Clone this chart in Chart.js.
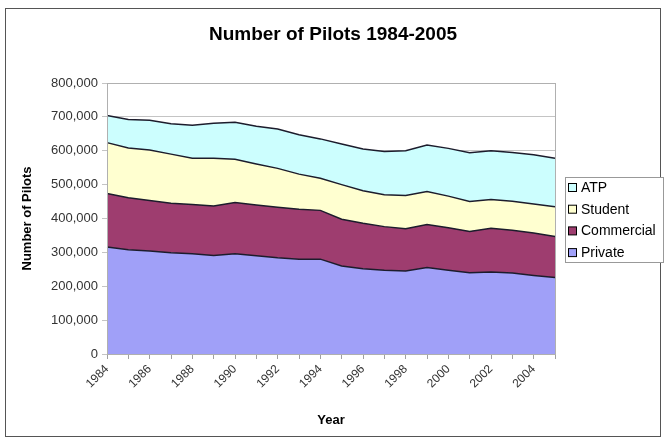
<!DOCTYPE html>
<html>
<head>
<meta charset="utf-8">
<script src="https://cdn.jsdelivr.net/npm/chart.js@4.4.1/dist/chart.umd.min.js"></script>
<style>
  html, body { margin: 0; padding: 0; background: #fff; }
  #wrap { width: 666px; height: 438px; position: relative; }
</style>
</head>
<body>
<div id="wrap"><canvas id="chartPilots"></canvas></div>
<script>
const years = [
  "1984", "1985", "1986", "1987", "1988", "1989", "1990", "1991",
  "1992", "1993", "1994", "1995", "1996", "1997", "1998", "1999",
  "2000", "2001", "2002", "2003", "2004", "2005",
];

const privatePilots = [316000, 308000, 304000, 299000, 296000, 291000, 296000, 290000, 284000, 280000, 280000, 260000, 252000, 247000, 245000, 255000, 247000, 240000, 242000, 239000, 232000, 226000];
const commercialPilots = [158000, 153000, 149000, 146000, 145000, 146000, 151000, 150000, 149000, 147000, 144000, 138000, 134000, 129000, 125000, 127000, 126000, 122000, 129000, 126000, 125000, 121000];
const studentPilots = [150000, 147000, 149000, 145000, 137000, 141000, 128000, 121000, 115000, 104000, 95000, 102000, 96000, 94000, 98000, 98000, 93000, 88000, 85000, 86000, 86000, 88000];
const atpPilots = [80000, 84000, 88000, 90000, 97000, 103000, 109000, 111000, 116000, 116000, 116000, 120000, 123000, 128000, 132000, 137000, 141000, 144000, 144000, 144000, 145000, 143000];

const yTicks = [0, 100000, 200000, 300000, 400000, 500000, 600000, 700000, 800000];

const chartTitle = "Number of Pilots 1984-2005";

const lineColor = "#1c1c2c";

// frame, title and legend box like the old spreadsheet chart
const framePlugin = {
  id: "frame",
  beforeDraw(chart) {
    const { ctx, width, height } = chart;
    ctx.save();
    ctx.fillStyle = "#fff";
    ctx.fillRect(0, 0, width, height);
    ctx.strokeStyle = "#555";
    ctx.lineWidth = 1;
    ctx.strokeRect(5.5, 8.5, 655, 428);
    ctx.restore();
  },
  afterDraw(chart) {
    const { ctx, chartArea } = chart;
    ctx.save();
    // plot area border
    ctx.strokeStyle = "#b0b0b0";
    ctx.lineWidth = 1;
    ctx.strokeRect(chartArea.left + 0.5, chartArea.top + 0.5, chartArea.right - chartArea.left, chartArea.bottom - chartArea.top);

    // title
    ctx.fillStyle = "#000";
    ctx.font = "bold 19px Arial, 'Liberation Sans', sans-serif";
    ctx.textAlign = "center";
    ctx.textBaseline = "middle";
    ctx.fillText(chartTitle, 333, 35);

    // legend
    const lx = 565, ly = 177, lw = 98, lh = 85;
    ctx.fillStyle = "#fff";
    ctx.fillRect(lx, ly, lw, lh);
    ctx.strokeStyle = "#999";
    ctx.strokeRect(lx + 0.5, ly + 0.5, lw, lh);
    ctx.font = "14px Arial, 'Liberation Sans', sans-serif";
    ctx.textAlign = "left";
    const sets = chart.data.datasets.slice().reverse();
    sets.forEach((ds, i) => {
      const cy = ly + 11 + i * 21.7;
      ctx.fillStyle = ds.backgroundColor;
      ctx.fillRect(lx + 3.5, cy - 4.5, 8, 8);
      ctx.strokeStyle = "#000";
      ctx.strokeRect(lx + 3.5, cy - 4.5, 8, 8);
      ctx.fillStyle = "#000";
      ctx.fillText(ds.label, lx + 16, cy);
    });
    ctx.restore();
  },
};

const chartPilots = document.getElementById("chartPilots");

new Chart(chartPilots, {
  type: "line",
  data: {
    labels: years,
    datasets: [
      {
        label: "Private",
        data: privatePilots,
        backgroundColor: "#A0A0F8",
        fill: "origin",
      },
      {
        label: "Commercial",
        data: commercialPilots,
        backgroundColor: "#9E3D6F",
        fill: "-1",
      },
      {
        label: "Student",
        data: studentPilots,
        backgroundColor: "#FFFFD0",
        fill: "-1",
      },
      {
        label: "ATP",
        data: atpPilots,
        backgroundColor: "#CCFEFE",
        fill: "-1",
      },
    ],
  },
  options: {
    responsive: true,
    maintainAspectRatio: false,
    animation: false,
    layout: {
      padding: { left: 0, top: 83, right: 111, bottom: 0 },
    },
    elements: {
      line: {
        tension: 0,
        borderColor: lineColor,
        borderWidth: 1.5,
      },
      point: {
        radius: 0,
        hoverRadius: 0,
      },
    },
    scales: {
      x: {
        offset: false,
        grid: {
          display: true,
          drawOnChartArea: false,
          color: "#a0a0a0",
          tickLength: 5,
        },
        border: { display: true, color: "#808080" },
        ticks: {
          autoSkip: false,
          maxRotation: 45,
          minRotation: 45,
          padding: 3,
          color: "#333",
          font: { size: 12, family: "Arial" },
          callback: function (value, index) {
            return index % 2 === 0 ? this.getLabelForValue(value) : "";
          },
        },
        title: {
          display: true,
          text: "Year",
          color: "#000",
          font: { size: 13, weight: "bold", family: "Arial" },
          padding: { top: 10, bottom: 10 },
        },
        afterFit: (scale) => {
          scale.height = 84;
        },
      },
      y: {
        stacked: true,
        min: 0,
        max: 800000,
        afterBuildTicks: (scale) => {
          scale.ticks = yTicks.map((v) => ({ value: v }));
        },
        grid: {
          display: true,
          color: "#c4c4c4",
          tickLength: 5,
        },
        border: { display: true, color: "#808080" },
        ticks: {
          padding: 4,
          color: "#333",
          font: { size: 13, family: "Arial" },
          callback: (value) => value.toLocaleString("en-US"),
        },
        title: {
          display: true,
          text: "Number of Pilots",
          color: "#000",
          font: { size: 13, weight: "bold", family: "Arial" },
          padding: { top: 20, bottom: 0 },
        },
        afterFit: (scale) => {
          scale.width = 107;
        },
      },
    },
    plugins: {
      title: { display: false },
      legend: { display: false },
      tooltip: { enabled: false },
    },
  },
  plugins: [framePlugin],
});
</script>
</body>
</html>
